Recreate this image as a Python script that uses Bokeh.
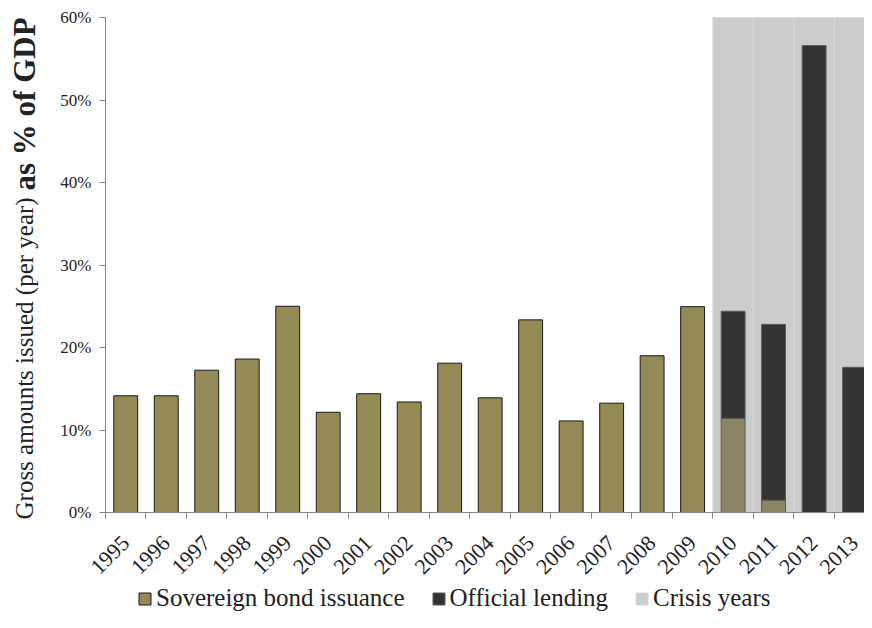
import math
from bokeh.plotting import figure
from bokeh.models import (Range1d, FixedTicker, PrintfTickFormatter, Label,
                          Legend, LegendItem, ColumnDataSource)
from bokeh.embed import file_html
from bokeh.resources import INLINE

# ---- data (percent of GDP) ----
years = ["1995", "1996", "1997", "1998", "1999", "2000", "2001", "2002", "2003",
         "2004", "2005", "2006", "2007", "2008", "2009", "2010", "2011", "2012", "2013"]
bond_issuance = [14.15, 14.15, 17.25, 18.6, 25.0, 12.15, 14.4, 13.4, 18.1,
                 13.9, 23.35, 11.1, 13.25, 19.0, 24.95, 11.4, 1.5, 0.0, 0.0]
official_lending = [0, 0, 0, 0, 0, 0, 0, 0, 0,
                    0, 0, 0, 0, 0, 0, 13.0, 21.3, 56.6, 17.6]
crisis_years = ["2010", "2011", "2012", "2013"]
y_ticks = [0, 10, 20, 30, 40, 50, 60]

OLIVE = "#948A55"
OLIVE_CRISIS = "#8B8564"
DARK = "#333333"
GREY = "#CCCCCC"
TXT = "#222222"
FONT = "'Liberation Serif', 'Times New Roman', Times, serif"

idx = {y: i for i, y in enumerate(years)}

W, H = 864, 612
LEFT, TOP, BOTTOM = 105, 17, 100          # pixel margins of the data area
XMAX = 18.745                              # visible category extent
px_x = (W - LEFT) / XMAX
px_y = (H - TOP - BOTTOM) / y_ticks[-1]
x_range = Range1d(-LEFT / px_x, XMAX)
y_range = Range1d(-BOTTOM / px_y, y_ticks[-1] + TOP / px_y)

p = figure(width=W, height=H, output_backend="svg", toolbar_location=None,
           x_range=x_range, y_range=y_range, min_border=0)
p.xgrid.visible = False
p.ygrid.visible = False
p.outline_line_color = None

# crisis shading
cs = ColumnDataSource(dict(left=[idx[y] for y in crisis_years],
                           right=[idx[y] + 1 for y in crisis_years],
                           top=[y_ticks[-1]] * len(crisis_years),
                           bottom=[0] * len(crisis_years)))
r_crisis = p.quad(left="left", right="right", top="top", bottom="bottom", source=cs,
                  fill_color=GREY, line_color="#D8D8D8", line_width=1)

# bond bars
bx, bt, bc, bl = [], [], [], []
for y, v in zip(years, bond_issuance):
    if v > 0:
        bx.append(idx[y] + 0.5)
        bt.append(v)
        cr = y in crisis_years
        bc.append(OLIVE_CRISIS if cr else OLIVE)
        bl.append("#5A5A5A" if cr else "#1A1A1A")
r_bond = p.vbar(x="x", top="top", bottom=0, width=0.59, fill_color="fc",
                line_color="lc", line_width=1,
                source=ColumnDataSource(dict(x=bx, top=bt, fc=bc, lc=bl)))

# official lending bars (stacked on bond issuance)
ox, ob, ot = [], [], []
for y, b, o in zip(years, bond_issuance, official_lending):
    if o > 0:
        ox.append(idx[y] + 0.5)
        ob.append(b)
        ot.append(b + o)
r_off = p.vbar(x="x", top="top", bottom="bottom", width=0.59, fill_color=DARK,
               line_color="#5A5A5A", line_width=1,
               source=ColumnDataSource(dict(x=ox, top=ot, bottom=ob)))

# axes, fixed at the data origin
xa = p.xaxis[0]
xa.fixed_location = 0
xa.bounds = (0, XMAX)
xa.ticker = FixedTicker(ticks=[i + 0.5 for i in range(len(years))],
                        minor_ticks=list(range(len(years) + 1)))
xa.major_label_overrides = {i + 0.5: y for i, y in enumerate(years)}
xa.major_label_orientation = math.pi / 4
xa.major_tick_out = 0
xa.major_tick_in = 0
xa.minor_tick_out = 6
xa.minor_tick_in = 0
xa.minor_tick_line_color = "#868686"
xa.axis_line_color = "#868686"
xa.major_label_text_font = FONT
xa.major_label_text_font_size = "22px"
xa.major_label_text_color = TXT
xa.major_label_standoff = 21

ya = p.yaxis[0]
ya.fixed_location = 0
ya.bounds = (0, y_ticks[-1])
ya.ticker = FixedTicker(ticks=y_ticks, minor_ticks=[])
ya.formatter = PrintfTickFormatter(format="%d%%")
ya.major_tick_out = 6
ya.major_tick_in = 0
ya.major_tick_line_color = "#868686"
ya.axis_line_color = "#868686"
ya.major_label_text_font = FONT
ya.major_label_text_font_size = "17px"
ya.major_label_text_color = TXT
ya.major_label_standoff = 8

# y-axis title: normal + bold parts
title_x = -81 / px_x
p.add_layout(Label(x=title_x, y=-7 / px_y, text="Gross amounts issued (per year)",
                   angle=math.pi / 2, text_align="left", text_baseline="alphabetic",
                   text_font=FONT, text_font_size="25px", text_color=TXT))
p.add_layout(Label(x=title_x, y=322 / px_y, text="as % of GDP",
                   angle=math.pi / 2, text_align="left", text_baseline="alphabetic",
                   text_font=FONT, text_font_size="31px", text_font_style="bold",
                   text_color=TXT))

# legend
leg = Legend(items=[LegendItem(label="Sovereign bond issuance", renderers=[r_bond], index=0),
                    LegendItem(label="Official lending", renderers=[r_off]),
                    LegendItem(label="Crisis years", renderers=[r_crisis])],
             orientation="horizontal", location=(137, 0), margin=0, padding=0,
             spacing=26, glyph_width=15, glyph_height=15, label_standoff=4,
             label_text_font=FONT, label_text_font_size="25px",
             label_text_color=TXT, border_line_color=None,
             background_fill_alpha=0)
p.add_layout(leg, "center")

open("out.html", "w").write(file_html(p, INLINE))
